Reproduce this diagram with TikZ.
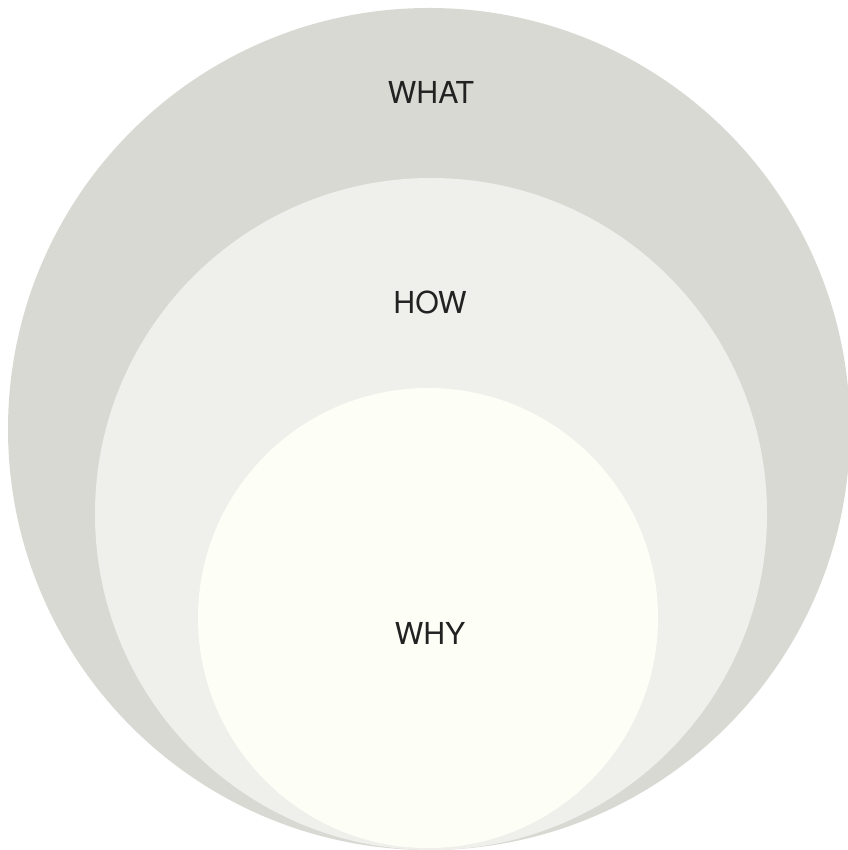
\documentclass[tikz,border=0pt]{standalone}
\usepackage{fontspec}
\setmainfont{TeX Gyre Heros}
\usepackage{tikz}
\usetikzlibrary{positioning}

\definecolor{whatgray}{RGB}{217,217,212}
\definecolor{howgray}{RGB}{239,240,235}
\definecolor{whycream}{RGB}{253,254,245}
\definecolor{labeltext}{RGB}{34,34,34}

\begin{document}
\begin{tikzpicture}[
  ring/.style={draw=none},
  lbl/.style={font=\fontsize{8.6}{10}\selectfont, text=labeltext, inner sep=0pt}
]
  \useasboundingbox (0,0) rectangle (8.47,-8.50);
  \fill[white] (0,0) rectangle (8.47,-8.50);

  % circles, all touching at the bottom
  \fill[ring, whatgray] (4.29,-4.29) circle (4.21);
  \fill[ring, howgray] (4.31,-5.14) circle (3.36);
  \fill[ring, whycream] (4.28,-6.18) circle (2.30);

  \node[lbl] (what) at (4.31,-0.92) {WHAT};
  \node[lbl] (how) at (4.30,-3.02) {HOW};
  \node[lbl] (why) at (4.30,-6.33) {WHY};
\end{tikzpicture}
\end{document}
